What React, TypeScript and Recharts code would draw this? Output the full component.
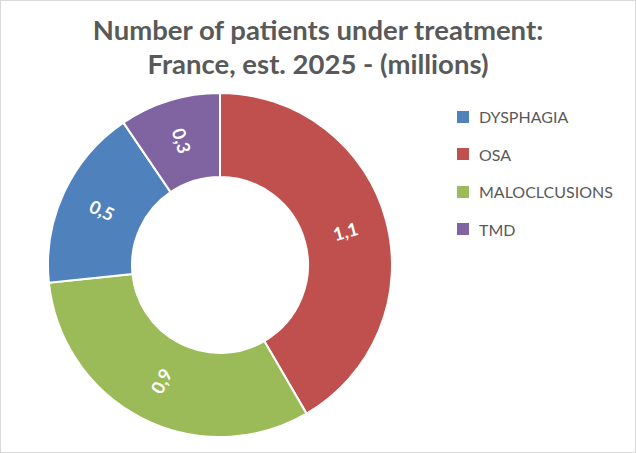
import * as React from "react";
import { PieChart, Pie, Cell, Legend } from "recharts";

// values in millions, clockwise from 12 o'clock
const names = ["OSA", "MALOCLCUSIONS", "DYSPHAGIA", "TMD"];
const values = [1.14, 0.87, 0.47, 0.26];
const colors = ["#C0504D", "#9BBB59", "#4F81BD", "#8064A2"];
const legendOrder = ["DYSPHAGIA", "OSA", "MALOCLCUSIONS", "TMD"];

const data = names.map((name, i) => ({ name, value: values[i] }));

const RAD = Math.PI / 180;
const font = "Lato, 'Open Sans', sans-serif";

const renderLabel = (props: any) => {
  const { cx, cy, midAngle, innerRadius, outerRadius, value } = props;
  const r = (innerRadius + outerRadius) / 2;
  const x = cx + r * Math.cos(-midAngle * RAD);
  const y = cy + r * Math.sin(-midAngle * RAD);
  let rot = -midAngle;
  while (rot > 90) rot -= 180;
  while (rot < -90) rot += 180;
  return (
    <text
      x={x}
      y={y}
      fill="#fff"
      fontSize={18}
      fontWeight="bold"
      fontFamily={font}
      textAnchor="middle"
      dominantBaseline="central"
      transform={`rotate(${rot} ${x} ${y})`}
    >
      {Number(value).toFixed(1).replace(".", ",")}
    </text>
  );
};

const LegendContent = () => (
  <div style={{ fontFamily: font, fontSize: 16, color: "#595959" }}>
    {legendOrder.map((n) => (
      <div
        key={n}
        style={{ display: "flex", alignItems: "center", height: 37.5 }}
      >
        <span
          style={{
            width: 12,
            height: 12,
            background: colors[names.indexOf(n)],
            marginRight: 10,
          }}
        />
        <span>{n}</span>
      </div>
    ))}
  </div>
);

const App: React.FC = () => {
  return (
    <div
      style={{
        position: "absolute",
        left: 0,
        top: 0,
        width: 636,
        height: 453,
        boxSizing: "border-box",
        border: "1px solid #d9d9d9",
        background: "#fff",
      }}
    >
      <div
        style={{
          position: "absolute",
          left: -1,
          top: 12,
          width: 636,
          textAlign: "center",
          fontFamily: font,
          fontWeight: "bold",
          fontSize: 27.5,
          lineHeight: "34px",
          color: "#595959",
        }}
      >
        Number of patients under treatment:
        <br />
        France, est. 2025 - (millions)
      </div>
      <div style={{ position: "absolute", left: -1, top: -1 }}>
        <PieChart
          width={636}
          height={453}
          margin={{ top: 0, right: 0, bottom: 0, left: 0 }}
        >
          <Pie
            data={data}
            dataKey="value"
            nameKey="name"
            cx={220}
            cy={265}
            innerRadius={88}
            outerRadius={172}
            startAngle={90}
            endAngle={-270}
            stroke="#fff"
            strokeWidth={2}
            label={renderLabel}
            labelLine={false}
            isAnimationActive={false}
          >
            {data.map((d, i) => (
              <Cell key={d.name} fill={colors[i]} />
            ))}
          </Pie>
          <Legend
            layout="vertical"
            align="right"
            verticalAlign="top"
            content={<LegendContent />}
            wrapperStyle={{ left: 457, top: 98, width: 170 }}
          />
        </PieChart>
      </div>
    </div>
  );
};

export default App;
